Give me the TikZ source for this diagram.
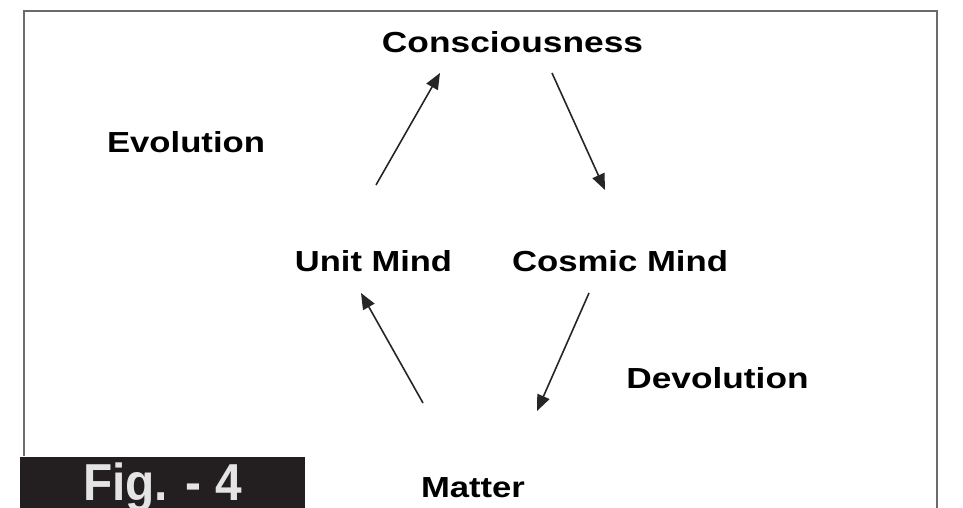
\documentclass[tikz,border=0pt]{standalone}
\usepackage{fontspec}
\setmainfont{Liberation Sans}
\usetikzlibrary{arrows.meta}
\definecolor{framegray}{HTML}{6B6B6B}
\definecolor{figbg}{HTML}{231F20}
\definecolor{figtext}{HTML}{E4E4E4}
\newcommand{\lbl}[2]{\scalebox{#1}[1]{#2}}
\tikzset{
  lab/.style={inner sep=0pt, anchor=base, font=\fontsize{29}{32}\selectfont\bfseries},
  flow/.style={draw=black!85, line width=1.6pt, -{Triangle[length=16pt,width=13pt]}},
  frame/.style={draw=framegray, line width=2pt},
}
\begin{document}
\begin{tikzpicture}[x=1pt,y=-1pt]
\useasboundingbox (0,0) rectangle (963,508);
\fill[white] (0,0) rectangle (963,508);
% frame
\draw[frame] (23.5,456) -- (23.5,11) -- (937,11) -- (937,510);
% figure label
\fill[figbg] (20,457) rectangle (305,510);
\node[inner sep=0pt, anchor=base, text=figtext, font=\fontsize{52}{56}\selectfont\bfseries] (fig) at (162.5,500) {\lbl{0.92}{Fig. - 4}};
% labels
\node[lab] (cons) at (512.5,53) {\lbl{1.218}{Consciousness}};
\node[lab] (evo) at (186,153) {\lbl{1.196}{Evolution}};
\node[lab] (unit) at (373.5,271) {\lbl{1.19}{Unit Mind}};
\node[lab] (cosmic) at (620,271) {\lbl{1.197}{Cosmic Mind}};
\node[lab] (devo) at (717.5,388) {\lbl{1.216}{Devolution}};
\node[lab] (matter) at (473,497) {\lbl{1.195}{Matter}};
% arrow end points
\coordinate (a1s) at (376,185);
\coordinate (a1e) at (440,73);
\coordinate (a2s) at (552,73);
\coordinate (a2e) at (605,190);
\coordinate (a3s) at (589,293);
\coordinate (a3e) at (537,411);
\coordinate (a4s) at (423,403);
\coordinate (a4e) at (361,293);
\draw[flow] (a1s) -- (a1e);
\draw[flow] (a2s) -- (a2e);
\draw[flow] (a3s) -- (a3e);
\draw[flow] (a4s) -- (a4e);
\end{tikzpicture}
\end{document}
